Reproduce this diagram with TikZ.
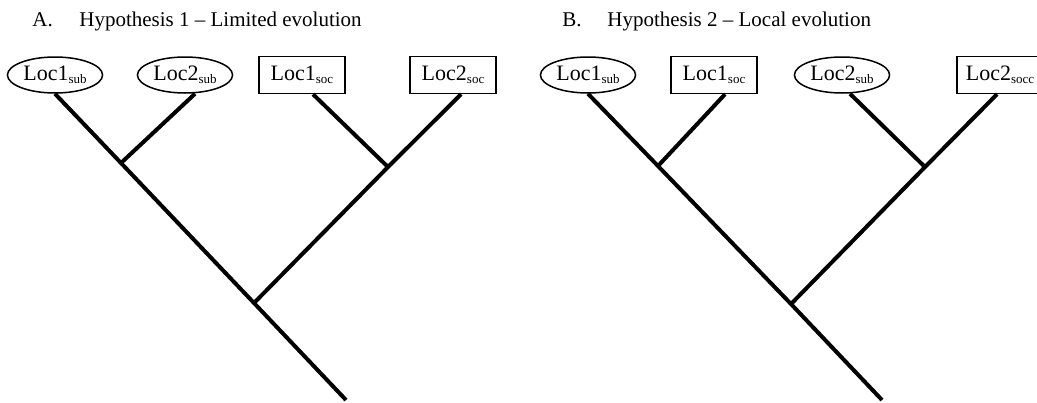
\documentclass[tikz,border=0pt]{standalone}
\usepackage{fontspec}
\setmainfont{Liberation Serif}
\usetikzlibrary{shapes.geometric, positioning}
\newcommand{\lsub}[1]{\raisebox{-0.35ex}{\fontsize{6.5}{7}\selectfont #1}}
\tikzset{
    subnode/.style={ellipse, draw, line width=0.75pt, minimum width=46.5pt, minimum height=18pt, inner sep=1pt, font=\fontsize{11}{13}\selectfont},
    socnode/.style={rectangle, draw, line width=0.75pt, minimum width=43pt, minimum height=18.5pt, inner sep=1pt, font=\fontsize{11}{13}\selectfont},
    branch/.style={line width=2pt},
    title/.style={anchor=base west, inner sep=0pt, font=\fontsize{10.5}{12}\selectfont}
}

\begin{document}
\begin{tikzpicture}[x=0.5pt, y=-0.5pt]
    \useasboundingbox (0,0) rectangle (1037,402);
    % titles
    \node[title] (labA) at (32,26) {A.};
    \node[title] (hypA) at (79,26) {Hypothesis 1 -- Limited evolution};
    \node[title] (labB) at (562,26) {B.};
    \node[title] (hypB) at (607,26) {Hypothesis 2 -- Local evolution};

    % A. limited evolution
    \node[subnode] (a1) at (55,75) {Loc1\lsub{sub}};
    \node[subnode] (a2) at (185,75) {Loc2\lsub{sub}};
    \node[socnode] (a3) at (302,75) {Loc1\lsub{soc}};
    \node[socnode] (a4) at (453,75) {Loc2\lsub{soc}};
    \coordinate (jA1) at (121,163);
    \coordinate (jA2) at (388,167);
    \coordinate (rootA) at (254,303);
    \coordinate (endA) at (346,400);
    \draw[branch] (a1.south) -- (jA1) -- (rootA) -- (endA);
    \draw[branch] ([xshift=5pt]a2.south) -- (jA1);
    \draw[branch] ([xshift=5.5pt]a3.south) -- (jA2);
    \draw[branch] ([xshift=4pt]a4.south) -- (jA2) -- (rootA);

    % B. local evolution
    \node[subnode] (b1) at (588,75) {Loc1\lsub{sub}};
    \node[socnode] (b2) at (714,75) {Loc1\lsub{soc}};
    \node[subnode] (b3) at (842,75) {Loc2\lsub{sub}};
    \node[socnode] (b4) at (1000,75) {Loc2\lsub{socc}};
    \coordinate (jB1) at (658,166);
    \coordinate (jB2) at (925,167);
    \coordinate (rootB) at (791,304);
    \coordinate (endB) at (882,400);
    \draw[branch] (b1.south) -- (jB1) -- (rootB) -- (endB);
    \draw[branch] ([xshift=5.5pt]b2.south) -- (jB1);
    \draw[branch] ([xshift=4pt]b3.south) -- (jB2);
    \draw[branch] ([xshift=-1.5pt]b4.south) -- (jB2) -- (rootB);
\end{tikzpicture}
\end{document}
